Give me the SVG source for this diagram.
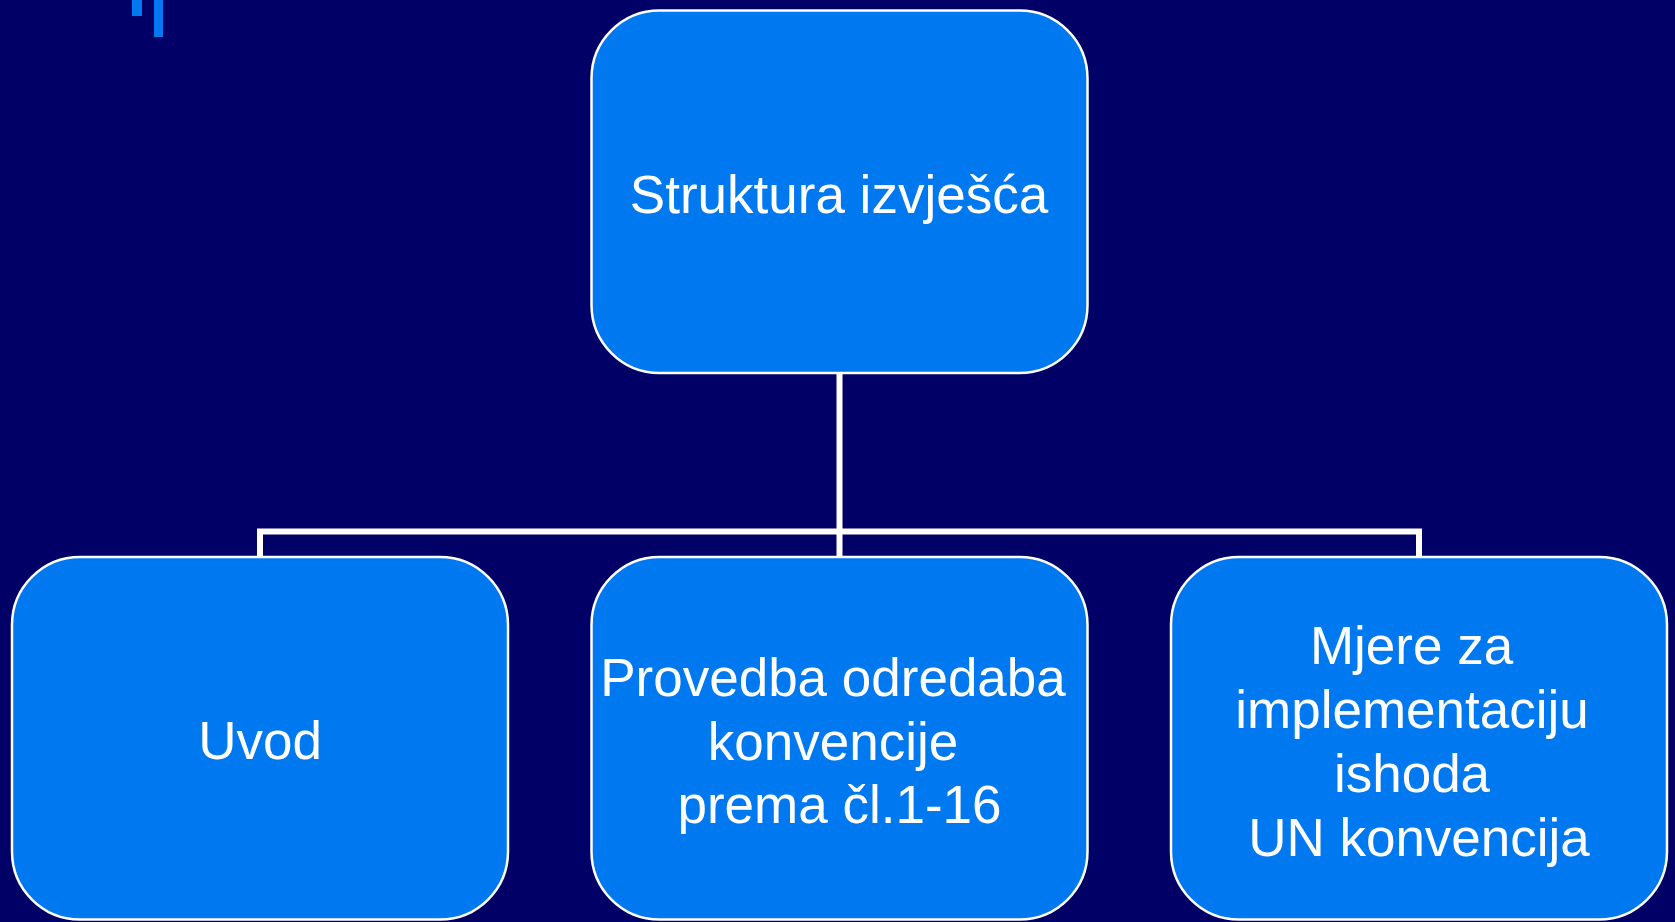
<svg xmlns="http://www.w3.org/2000/svg" width="1675" height="922" viewBox="0 0 1675 922">
<style>
.node{fill:#0079F0;stroke:#FFFFFF;stroke-width:2.5}
.lbl{font-family:"Liberation Sans",Arial,sans-serif;font-size:53px;fill:#FFFFFF;text-anchor:middle}
.conn{fill:none;stroke:#FFFFFF;stroke-width:6}
.deco{fill:#0079F0}
</style>
<rect x="0" y="0" width="1675" height="922" fill="#000066"/>
<g id="decoration">
<rect class="deco" x="132" y="0" width="10" height="16"/>
<rect class="deco" x="154" y="0" width="9" height="37"/>
</g>
<g id="connectors">
<path class="conn" d="M839.5 373.5 V531.5 M260 557 V531.5 H1419 V557 M839.5 531.5 V557"/>
</g>
<g id="node-root">
<rect class="node" x="591.5" y="10.5" width="496" height="362.5" rx="68" ry="68"/>
<text class="lbl" x="839" y="213">Struktura izvješća</text>
</g>
<g id="node-uvod">
<rect class="node" x="12" y="557" width="496" height="362.5" rx="68" ry="68"/>
<text class="lbl" x="260" y="759">Uvod</text>
</g>
<g id="node-provedba">
<rect class="node" x="591.5" y="557" width="496" height="362.5" rx="68" ry="68"/>
<text class="lbl" x="833" y="696">Provedba odredaba</text>
<text class="lbl" x="833" y="759.5">konvencije</text>
<text class="lbl" x="839.5" y="823">prema čl.1-16</text>
</g>
<g id="node-mjere">
<rect class="node" x="1171" y="557" width="496" height="362.5" rx="68" ry="68"/>
<text class="lbl" x="1411.5" y="664">Mjere za</text>
<text class="lbl" x="1412" y="728">implementaciju</text>
<text class="lbl" x="1412" y="792">ishoda</text>
<text class="lbl" x="1419" y="856">UN konvencija</text>
</g>
</svg>
